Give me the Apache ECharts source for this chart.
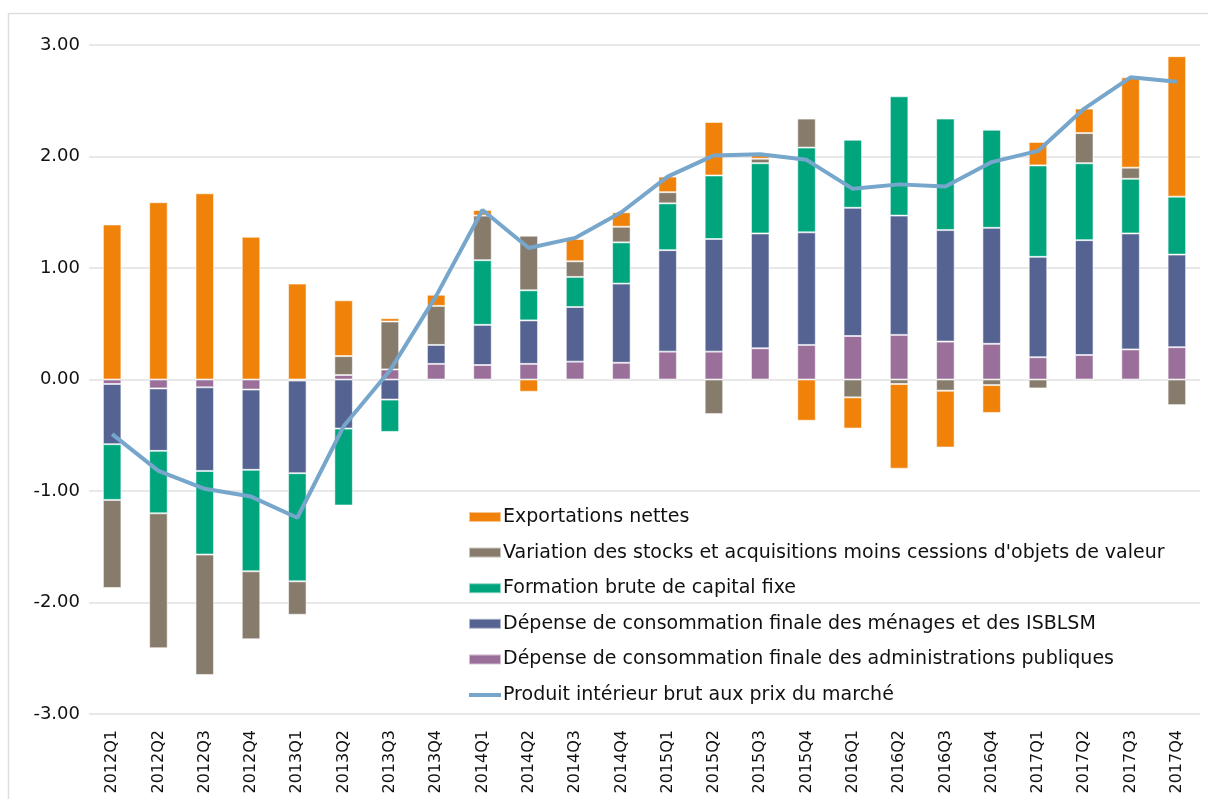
<!DOCTYPE html>
<html>
<head>
<meta charset="utf-8">
<script src="https://cdn.jsdelivr.net/npm/echarts@6/dist/echarts.min.js"></script>
<style>html,body{margin:0;padding:0;background:#fff;}#c{width:1208px;height:799px;}</style>
</head>
<body>
<div id="c"></div>
<script>
const categories = ['2012Q1','2012Q2','2012Q3','2012Q4','2013Q1','2013Q2','2013Q3','2013Q4','2014Q1','2014Q2','2014Q3','2014Q4','2015Q1','2015Q2','2015Q3','2015Q4','2016Q1','2016Q2','2016Q3','2016Q4','2017Q1','2017Q2','2017Q3','2017Q4'];
const administrations = [-0.04,-0.08,-0.07,-0.09,-0.01,0.04,0.09,0.14,0.13,0.14,0.16,0.15,0.25,0.25,0.28,0.31,0.39,0.40,0.34,0.32,0.20,0.22,0.27,0.29];
const menages = [-0.54,-0.56,-0.75,-0.72,-0.83,-0.44,-0.18,0.17,0.36,0.39,0.49,0.71,0.91,1.01,1.03,1.01,1.15,1.07,1.00,1.04,0.90,1.03,1.04,0.83];
const fbcf = [-0.50,-0.56,-0.75,-0.91,-0.97,-0.69,-0.29,-0.01,0.58,0.27,0.27,0.37,0.42,0.57,0.63,0.76,0.61,1.07,1.00,0.88,0.82,0.69,0.49,0.52];
const stocks = [-0.79,-1.21,-1.08,-0.61,-0.30,0.17,0.43,0.35,0.40,0.49,0.14,0.14,0.10,-0.31,0.04,0.26,-0.16,-0.04,-0.10,-0.05,-0.08,0.27,0.10,-0.23];
const exportations = [1.39,1.59,1.67,1.28,0.86,0.50,0.03,0.10,0.05,-0.11,0.20,0.13,0.14,0.48,0.04,-0.37,-0.28,-0.76,-0.51,-0.25,0.21,0.22,0.81,1.26];
const pib = [-0.49,-0.82,-0.98,-1.05,-1.24,-0.42,0.08,0.75,1.52,1.18,1.27,1.50,1.82,2.01,2.02,1.97,1.71,1.75,1.73,1.95,2.05,2.43,2.71,2.67];

const names = {
  exp: 'Exportations nettes',
  sto: "Variation des stocks et acquisitions moins cessions d'objets de valeur",
  fbcf: 'Formation brute de capital fixe',
  men: 'Dépense de consommation finale des ménages et des ISBLSM',
  adm: 'Dépense de consommation finale des administrations publiques',
  pib: 'Produit intérieur brut aux prix du marché'
};
const FONT = 'DejaVu Sans';
function bar(name, data, color) {
  return {
    name, type: 'bar', stack: 'tot', data, barWidth: '40%',
    itemStyle: { color, borderColor: 'rgba(255,255,255,0.55)', borderWidth: 1 }
  };
}
const chart = echarts.init(document.getElementById('c'), null, { renderer: 'canvas' });
chart.setOption({
  animation: false,
  backgroundColor: '#fff',
  graphic: [{
    type: 'rect', silent: true, z: -1,
    shape: { x: 8.5, y: 13.5, width: 1400, height: 1000 },
    style: { fill: 'none', stroke: '#dedede', lineWidth: 1.5 }
  }],
  grid: { left: 89, right: 8, top: 45, bottom: 85, containLabel: false },
  legend: {
    orient: 'vertical', left: 462, top: 502,
    itemWidth: 32, itemHeight: 10, itemGap: 15.6,
    textStyle: { fontFamily: FONT, fontSize: 19, color: '#111', lineHeight: 20, padding: [0,0,0,-3] },
    data: [
      { name: names.exp, icon: 'rect' },
      { name: names.sto, icon: 'rect' },
      { name: names.fbcf, icon: 'rect' },
      { name: names.men, icon: 'rect' },
      { name: names.adm, icon: 'rect' },
      { name: names.pib, itemStyle: { opacity: 0 }, lineStyle: { width: 4, color: '#76A6CB' } }
    ]
  },
  xAxis: {
    type: 'category', data: categories,
    axisLine: { show: false }, axisTick: { show: false },
    axisLabel: { rotate: 90, margin: 16, fontFamily: FONT, fontSize: 16, color: '#111' }
  },
  yAxis: {
    type: 'value', min: -3, max: 3, interval: 1,
    axisLine: { show: false }, axisTick: { show: false },
    splitLine: { lineStyle: { color: '#e0e0e0', width: 1.5 } },
    axisLabel: { margin: 9, fontFamily: FONT, fontSize: 18, color: '#111', formatter: v => v.toFixed(2) }
  },
  series: [
    bar(names.adm, administrations, '#9A6F9A'),
    bar(names.men, menages, '#556392'),
    bar(names.fbcf, fbcf, '#00A57E'),
    bar(names.sto, stocks, '#877C6C'),
    bar(names.exp, exportations, '#F0820A'),
    {
      name: names.pib, type: 'line', data: pib, symbol: 'none', z: 5,
      lineStyle: { color: '#76A6CB', width: 4 }, itemStyle: { color: '#76A6CB' }
    }
  ]
});
</script>
</body>
</html>
